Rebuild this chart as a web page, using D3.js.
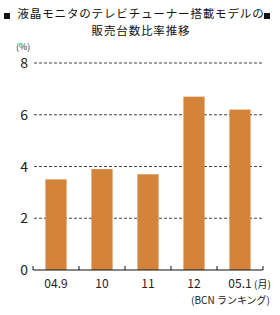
<!DOCTYPE html>
<html><head><meta charset="utf-8">
<script src="https://cdn.jsdelivr.net/npm/d3@7"></script>
<style>body{margin:0;background:#fff}svg{display:block}text{font-family:"Noto Sans CJK JP","Noto Sans",sans-serif}</style>
</head><body>
<script>
const categories = ["04.9","10","11","12","05.1"];
const values = [3.5, 3.9, 3.7, 6.7, 6.2];
const yTicks = [0, 2, 4, 6, 8];
const titleLines = ["液晶モニタのテレビチューナー搭載モデルの","販売台数比率推移"];

const W = 280, H = 315;
const svg = d3.select("body").append("svg").attr("width", W).attr("height", H);
const x = d3.scaleBand().domain(categories).range([33, 263]).paddingInner(0.54).paddingOuter(0.27);
const y = d3.scaleLinear().domain([0, 8]).range([270, 63]);

// title
svg.selectAll("text.title").data(titleLines).enter().append("text")
  .attr("x", 141).attr("y", (d,i) => 18 + i*17).attr("text-anchor", "middle")
  .attr("font-size", 11.5).attr("letter-spacing", 0.85).attr("fill", "#111").text(d => d);
svg.append("rect").attr("x", 4).attr("y", 13).attr("width", 6).attr("height", 6).attr("fill", "#111");
svg.append("rect").attr("x", 264).attr("y", 13).attr("width", 6).attr("height", 6).attr("fill", "#111");

// gridlines
svg.selectAll("line.grid").data(yTicks.filter(d => d > 0)).enter().append("line")
  .attr("x1", 34).attr("x2", 262).attr("y1", d => y(d)).attr("y2", d => y(d))
  .attr("stroke", "#444").attr("stroke-width", 1).attr("stroke-dasharray", "3,2");

// bars
svg.selectAll("rect.bar").data(values).enter().append("rect")
  .attr("x", (d,i) => x(categories[i])).attr("width", x.bandwidth())
  .attr("y", d => y(d)).attr("height", d => y(0) - y(d)).attr("fill", "#d4843a");

// y labels
svg.selectAll("text.yl").data(yTicks).enter().append("text")
  .attr("x", 28).attr("y", d => y(d) + 5).attr("text-anchor", "end")
  .attr("font-size", 14).attr("fill", "#222").text(d => d);
svg.append("text").attr("x", 16).attr("y", 50).attr("font-size", 9).attr("fill", "#333").text("(%)");

// x axis
const axis = svg.append("g").attr("transform", "translate(0,270)");
axis.append("line").attr("x1", 33).attr("x2", 263).attr("stroke", "#111").attr("stroke-width", 1.2);
const tickPos = categories.map(c => x(c) - x.step()*x.paddingInner()/2).concat([263]);
axis.selectAll("line.t").data(tickPos).enter().append("line")
  .attr("x1", d => d).attr("x2", d => d).attr("y1", 0).attr("y2", -4).attr("stroke", "#111");
axis.selectAll("text.xl").data(categories).enter().append("text")
  .attr("x", d => x(d) + x.bandwidth()/2).attr("y", 18).attr("text-anchor", "middle")
  .attr("font-size", 12).attr("fill", "#222").text(d => d);
axis.append("text").attr("x", x("05.1") + x.bandwidth()/2 + 14).attr("y", 18)
  .attr("font-size", 10).attr("fill", "#222").text("(月)");
svg.append("text").attr("x", 270).attr("y", 304).attr("text-anchor", "end")
  .attr("font-size", 10).attr("fill", "#222").text("(BCN ランキング)");
</script>
</body></html>
